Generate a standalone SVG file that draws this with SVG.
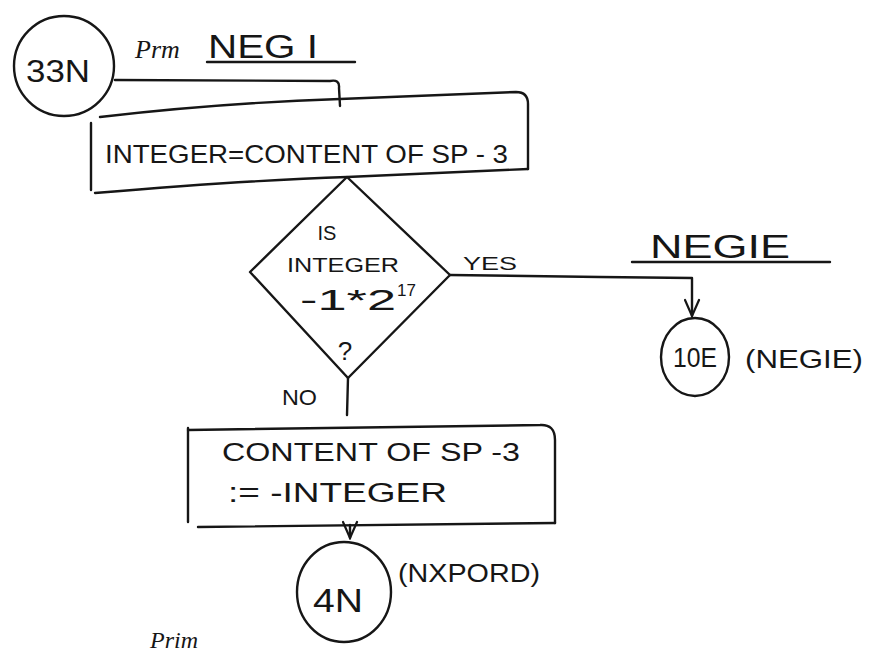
<svg xmlns="http://www.w3.org/2000/svg" width="883" height="653" viewBox="0 0 883 653">
<style>
.s{fill:none;stroke:#161616;stroke-width:2.4;stroke-linecap:round;stroke-linejoin:round}
.t{font-family:"Liberation Sans","DejaVu Sans",sans-serif;fill:#161616}
.i{font-family:"Liberation Serif","DejaVu Serif",serif;font-style:italic;fill:#161616}
</style>
<defs>
<marker id="v" markerUnits="userSpaceOnUse" markerWidth="20" markerHeight="20" refX="8" refY="18" orient="0">
<path d="M1,2 L8,18 L15,2" fill="none" stroke="#161616" stroke-width="2.2" stroke-linecap="round"/>
</marker>
</defs>
<rect width="883" height="653" fill="#fff"/>
<g id="connectors">
<path class="s" d="M115,80 L330,81 Q340,79 339,88 L340,106"/>
<path class="s" d="M450,275 L600,277 L692,278 L692,316" marker-end="url(#v)"/>
<path class="s" d="M348,378 L347,415"/>
<path class="s" d="M350,525 L350,538" marker-end="url(#v)"/>
</g>
<g id="n-33N">
<circle class="s" cx="64" cy="66" r="50"/>
<text class="t" x="58" y="82" font-size="32" text-anchor="middle" textLength="64" lengthAdjust="spacingAndGlyphs">33N</text>
</g>
<g id="title">
<text class="i" x="135" y="58" font-size="26">Prm</text>
<text class="t" x="208" y="58" font-size="34" textLength="110" lengthAdjust="spacingAndGlyphs">NEG I</text>
<path class="s" d="M207,62 L355,62" stroke-width="1.6"/>
</g>
<g id="n-box1">
<path class="s" d="M100,117 Q220,103 340,99 L516,92 Q528,92 528,104 L528,169"/>
<path class="s" d="M91,123 L91,190"/>
<path class="s" d="M95,193 Q250,180 347,177 L528,169"/>
<text class="t" x="105" y="163" font-size="26" textLength="403" lengthAdjust="spacingAndGlyphs">INTEGER=CONTENT OF SP - 3</text>
</g>
<g id="n-diamond">
<path class="s" d="M347,177 L450,275 L348,378 L250,272 Z"/>
<text class="t" x="327" y="240" font-size="20" text-anchor="middle">IS</text>
<text class="t" x="343" y="272" font-size="20" text-anchor="middle" textLength="112" lengthAdjust="spacingAndGlyphs">INTEGER</text>
<text class="t" x="300" y="310" font-size="30" textLength="96" lengthAdjust="spacingAndGlyphs">-1*2</text>
<text class="t" x="397" y="296" font-size="17">17</text>
<text class="t" x="345" y="360" font-size="26" text-anchor="middle">?</text>
</g>
<text class="t" x="282" y="405" font-size="22" textLength="35" lengthAdjust="spacingAndGlyphs">NO</text>
<text class="t" x="463" y="270" font-size="19" textLength="54" lengthAdjust="spacingAndGlyphs">YES</text>
<g id="label-negie">
<text class="t" x="650" y="258" font-size="34" textLength="140" lengthAdjust="spacingAndGlyphs">NEGIE</text>
<path class="s" d="M632,262 L830,262" stroke-width="1.6"/>
</g>
<g id="n-10E">
<ellipse class="s" cx="695" cy="357" rx="34" ry="39"/>
<text class="t" x="695" y="367" font-size="28" text-anchor="middle" textLength="44" lengthAdjust="spacingAndGlyphs">10E</text>
<text class="t" x="745" y="368" font-size="26" textLength="118" lengthAdjust="spacingAndGlyphs">(NEGIE)</text>
</g>
<g id="n-box2">
<path class="s" d="M188,430 L540,425 Q555,424 555,440 L555,523"/>
<path class="s" d="M188,428 L188,522"/>
<path class="s" d="M198,527 L555,523"/>
<text class="t" x="222" y="461" font-size="25" textLength="298" lengthAdjust="spacingAndGlyphs">CONTENT OF SP -3</text>
<text class="t" x="228" y="502" font-size="27" textLength="219" lengthAdjust="spacingAndGlyphs">:= -INTEGER</text>
</g>
<g id="n-4N">
<ellipse class="s" cx="344" cy="592" rx="47" ry="50"/>
<text class="t" x="338" y="612" font-size="34" text-anchor="middle" textLength="50" lengthAdjust="spacingAndGlyphs">4N</text>
<text class="t" x="398" y="582" font-size="26" textLength="142" lengthAdjust="spacingAndGlyphs">(NXPORD)</text>
</g>
<text class="i" x="150" y="648" font-size="24">Prim</text>
</svg>
